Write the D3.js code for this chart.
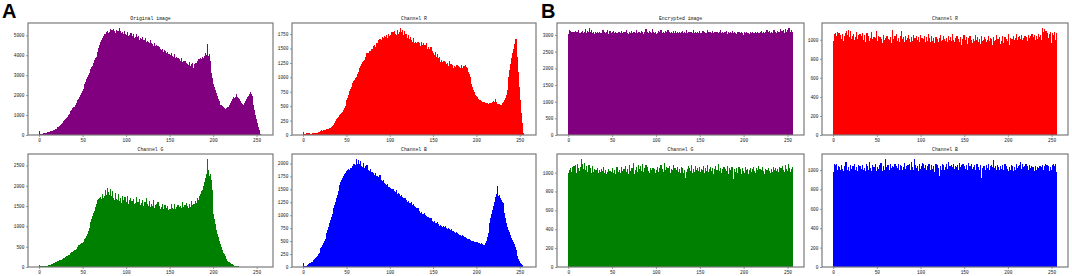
<!DOCTYPE html>
<html>
<head>
<meta charset="utf-8">
<script src="https://cdn.jsdelivr.net/npm/d3@7"></script>
<style>
  body { margin: 0; background: #fff; }
</style>
</head>
<body>
<svg id="chart" width="1072" height="276"></svg>
<script>
// histogram bins 0..255 (pixel intensity)
const bins = d3.range(256);
const xTicks = [0, 50, 100, 150, 200, 250];

// y tick labels per panel
const ticksOriginal = [0, 1000, 2000, 3000, 4000, 5000];
const ticksR = [0, 250, 500, 750, 1000, 1250, 1500, 1750];
const ticksG = [0, 500, 1000, 1500, 2000, 2500];
const ticksB = [0, 250, 500, 750, 1000, 1250, 1500, 1750, 2000];
const ticksEncrypted = [0, 500, 1000, 1500, 2000, 2500, 3000];
const ticksEncChannel = [0, 200, 400, 600, 800, 1000];

// A: original image histograms
const originalAll = [
  180, 40, 55, 60, 75, 85, 95, 110, 120, 130, 145, 160, 170, 185, 200, 220,
  240, 265, 290, 320, 350, 385, 420, 460, 500, 545, 590, 640, 690, 740, 790, 850,
  910, 980, 1050, 1120, 1190, 1260, 1330, 1400, 1420, 1510, 1600, 1680, 1760, 1830, 1920, 2010,
  2110, 2220, 2330, 2450, 2560, 2680, 2790, 2900, 3020, 3130, 3250, 3320, 3400, 3480, 3600, 3750,
  3850, 3900, 3980, 4150, 4350, 4500, 4660, 4750, 4880, 4950, 5050, 5080, 4980, 5150, 5200, 5120,
  5180, 5300, 5100, 5250, 5150, 5320, 5200, 5100, 5280, 5150, 5230, 5050, 5350, 5200, 5120, 5180,
  5080, 5220, 5050, 5000, 5000, 5150, 4950, 5020, 4900, 5120, 4950, 4880, 5050, 4850, 4900, 5080,
  4900, 4820, 4950, 4780, 4850, 4800, 4920, 4750, 4780, 4700, 4850, 4650, 4720, 4680, 4600, 4750,
  4600, 4550, 4580, 4480, 4600, 4450, 4500, 4380, 4450, 4350, 4400, 4300, 4250, 4320, 4180, 4250,
  4150, 4200, 4100, 4180, 4050, 4080, 4000, 4120, 3950, 3980, 3900, 4050, 3850, 3920, 3800, 3850,
  3750, 3800, 3700, 3850, 3650, 3700, 3580, 3720, 3550, 3600, 3580, 3500, 3650, 3450, 3550, 3400,
  3600, 3350, 3550, 3620, 3600, 3700, 3650, 3800, 3750, 3850, 3800, 3900, 3850, 3950, 3900, 4100,
  4000, 4550, 3950, 4050, 3700, 3100, 2850, 2700, 2580, 2420, 2250, 2100, 1950, 1830, 1700, 1600,
  1520, 1480, 1450, 1380, 1350, 1300, 1320, 1350, 1380, 1420, 1500, 1580, 1650, 1720, 1830, 1900,
  1880, 1920, 2050, 1900, 1850, 1800, 1750, 1700, 1620, 1550, 1500, 1520, 1600, 1700, 1830, 1920,
  1980, 2050, 2150, 2080, 1950, 1750, 1500, 1250, 1000, 800, 580, 400, 250, 140, 60, 10
];
const originalR = [
  45, 20, 25, 30, 22, 28, 25, 30, 20, 25, 28, 30, 26, 35, 38, 42,
  40, 50, 55, 65, 75, 80, 72, 85, 90, 82, 95, 100, 92, 110, 115, 125,
  140, 150, 160, 175, 200, 240, 270, 300, 320, 335, 350, 370, 390, 400, 430, 470,
  510, 560, 600, 650, 700, 760, 800, 840, 880, 910, 930, 960, 980, 1010, 1060, 1100,
  1120, 1155, 1200, 1230, 1260, 1280, 1300, 1330, 1360, 1420, 1380, 1415, 1450, 1460, 1490, 1480,
  1500, 1540, 1560, 1520, 1600, 1590, 1640, 1580, 1660, 1620, 1645, 1700, 1680, 1720, 1660, 1700,
  1740, 1680, 1760, 1710, 1730, 1780, 1700, 1790, 1720, 1800, 1760, 1740, 1820, 1700, 1760, 1790,
  1850, 1780, 1820, 1740, 1800, 1720, 1760, 1700, 1690, 1740, 1660, 1700, 1640, 1620, 1600, 1680,
  1590, 1620, 1600, 1560, 1620, 1580, 1600, 1550, 1610, 1560, 1590, 1520, 1560, 1540, 1600, 1500,
  1530, 1500, 1480, 1520, 1440, 1460, 1415, 1390, 1440, 1350, 1400, 1330, 1300, 1360, 1270, 1300,
  1270, 1240, 1280, 1220, 1260, 1230, 1250, 1200, 1290, 1240, 1240, 1180, 1220, 1160, 1200, 1185,
  1150, 1210, 1180, 1200, 1185, 1160, 1220, 1170, 1200, 1150, 1190, 1210, 1185, 1170, 1100, 1060,
  1000, 950, 880, 830, 780, 740, 700, 680, 665, 640, 620, 610, 600, 590, 580, 570,
  560, 565, 560, 555, 550, 545, 560, 550, 555, 560, 570, 590, 580, 620, 575, 560,
  545, 540, 530, 525, 520, 530, 550, 570, 600, 650, 700, 780, 880, 1000, 1125, 1230,
  1330, 1415, 1500, 1580, 1645, 1660, 1550, 1360, 1100, 840, 600, 375, 200, 100, 30, 5
];
const originalG = [
  55, 25, 30, 28, 30, 32, 28, 30, 35, 30, 38, 40, 50, 60, 70, 80,
  95, 105, 115, 125, 140, 150, 155, 165, 175, 180, 195, 205, 215, 230, 245, 260,
  275, 290, 305, 330, 340, 360, 380, 395, 410, 430, 450, 470, 500, 530, 550, 570,
  590, 600, 615, 640, 680, 720, 770, 820, 880, 950, 1025, 1100, 1190, 1260, 1320, 1390,
  1480, 1560, 1600, 1650, 1680, 1700, 1720, 1680, 1800, 1700, 1760, 1740, 1900, 1780, 1950, 1850,
  1780, 1920, 1700, 1760, 1880, 1700, 1650, 1820, 1680, 1600, 1650, 1800, 1620, 1700, 1580, 1760,
  1640, 1600, 1720, 1580, 1600, 1750, 1560, 1640, 1700, 1560, 1620, 1580, 1680, 1550, 1580, 1720,
  1540, 1600, 1560, 1680, 1520, 1580, 1640, 1500, 1560, 1600, 1520, 1700, 1540, 1500, 1620, 1480,
  1560, 1500, 1500, 1640, 1460, 1520, 1560, 1450, 1600, 1480, 1500, 1440, 1470, 1560, 1420, 1480,
  1520, 1440, 1460, 1500, 1400, 1440, 1430, 1540, 1400, 1460, 1420, 1560, 1440, 1480, 1400, 1520,
  1470, 1420, 1500, 1460, 1600, 1480, 1440, 1520, 1460, 1580, 1500, 1460, 1540, 1480, 1620, 1520,
  1500, 1560, 1540, 1620, 1580, 1700, 1640, 1620, 1750, 1800, 1860, 1900, 2000, 1980, 2100, 2200,
  2300, 2650, 2400, 2250, 2300, 2150, 1900, 1480, 1300, 1190, 1050, 900, 820, 740, 650, 600,
  560, 500, 410, 350, 310, 280, 230, 190, 160, 135, 120, 100, 80, 65, 50, 40,
  35, 30, 22, 18, 14, 10, 8, 6, 5, 4, 3, 2, 2, 1, 1, 1,
  0, 0, 0, 0, 0, 0, 0, 0, 0, 0, 0, 0, 0, 0, 0, 0
];
const originalB = [
  75, 20, 15, 20, 30, 45, 60, 70, 80, 90, 100, 115, 130, 150, 170, 195,
  220, 250, 280, 320, 360, 390, 430, 470, 510, 550, 600, 650, 710, 780, 845, 900,
  960, 1020, 1080, 1135, 1200, 1260, 1330, 1400, 1460, 1520, 1580, 1640, 1690, 1720, 1760, 1800,
  1820, 1840, 1850, 1880, 1900, 1870, 1920, 1915, 1950, 1940, 2000, 1960, 1980, 2080, 1990, 2060,
  1980, 1990, 2050, 1960, 1940, 2010, 1915, 1950, 1900, 1980, 1870, 1880, 1860, 1900, 1830, 1840,
  1815, 1800, 1780, 1820, 1760, 1750, 1740, 1720, 1780, 1700, 1690, 1660, 1680, 1630, 1610, 1590,
  1570, 1600, 1550, 1540, 1525, 1500, 1490, 1510, 1470, 1460, 1440, 1480, 1420, 1430, 1410, 1380,
  1370, 1400, 1350, 1330, 1320, 1340, 1300, 1290, 1265, 1280, 1240, 1230, 1250, 1200, 1190, 1210,
  1170, 1150, 1135, 1120, 1140, 1090, 1080, 1040, 1060, 1030, 1020, 1040, 1005, 990, 980, 960,
  970, 940, 930, 950, 910, 890, 875, 880, 860, 850, 870, 825, 830, 800, 810, 790,
  780, 800, 770, 760, 790, 745, 740, 760, 730, 720, 715, 740, 700, 690, 680, 650,
  670, 640, 660, 630, 615, 620, 600, 610, 590, 585, 570, 580, 560, 550, 540, 545,
  530, 520, 510, 500, 505, 490, 480, 485, 475, 470, 460, 465, 450, 455, 440, 430,
  420, 430, 455, 500, 580, 650, 750, 850, 940, 1020, 1100, 1170, 1250, 1300, 1360, 1420,
  1560, 1380, 1400, 1330, 1300, 1260, 1230, 1150, 1050, 940, 860, 780, 715, 680, 650, 615,
  570, 530, 490, 440, 380, 325, 270, 210, 160, 120, 80, 50, 30, 10, 5, 0
];

// B: encrypted image histograms
const encryptedAll = [
  3020, 3150, 3110, 3080, 3090, 3060, 3100, 3050, 3120, 3080, 3090, 3140, 3070, 3060, 3100, 3080,
  3110, 3050, 3090, 3180, 3070, 3120, 3100, 3060, 3200, 3080, 3150, 3070, 3090, 3040, 3080, 3060,
  3070, 3090, 3050, 3080, 3060, 3070, 3100, 3150, 3060, 3080, 3050, 3090, 3140, 3040, 3070, 3110,
  3060, 3020, 3080, 3130, 3050, 3090, 3070, 3000, 3060, 3100, 3080, 3050, 3120, 3060, 3090, 3040,
  3080, 3060, 3150, 3070, 3040, 3090, 3060, 3110, 3030, 3070, 3080, 3100, 3050, 3160, 3060, 3080,
  3090, 3050, 3070, 3130, 3080, 3040, 3100, 3060, 3180, 3070, 3090, 3050, 3120, 3080, 3060, 3170,
  3080, 3100, 3050, 3090, 3040, 3070, 3120, 3060, 3080, 3150, 3040, 3070, 3090, 3060, 3110, 3050,
  3080, 3140, 3060, 3090, 3050, 3080, 3060, 3110, 3070, 3040, 3130, 3060, 3090, 3070, 3100, 3050,
  3060, 3090, 3120, 3050, 3080, 3060, 3150, 3070, 3040, 3090, 3060, 3100, 3080, 3050, 3140, 3070,
  3090, 3060, 3000, 3080, 3050, 3110, 3070, 3060, 3090, 3130, 3040, 3080, 3070, 3060, 3150, 3080,
  3060, 3100, 3070, 3050, 3120, 3060, 3090, 3080, 3040, 3100, 3070, 3050, 3080, 3140, 3060, 3090,
  3070, 3050, 3090, 3060, 3110, 3040, 3080, 3060, 3090, 3070, 3050, 3120, 3060, 3080, 3070, 3040,
  3090, 3060, 3080, 3050, 3070, 3100, 3060, 3010, 3080, 3050, 3060, 3090, 3070, 3060, 3040, 3080,
  3060, 3090, 3050, 2980, 3070, 3080, 3060, 3100, 3050, 3070, 3060, 3090, 3110, 3060, 3080, 3070,
  3090, 3060, 3140, 3080, 3050, 3120, 3070, 3090, 3060, 3100, 3150, 3070, 3090, 3060, 3130, 3080,
  3100, 3170, 3080, 3120, 3090, 3150, 3060, 3180, 3100, 3140, 3070, 3200, 3110, 3090, 3150, 3080
];
const encryptedR = [
  990, 1060, 1070, 1040, 1080, 1030, 1070, 1020, 1050, 1010, 1060, 990, 1040, 1000, 1070, 1090,
  1050, 1100, 1030, 1090, 1010, 1040, 1020, 1060, 1000, 1030, 1080, 1010, 1050, 990, 1060, 1020,
  1040, 1070, 1000, 1050, 980, 1030, 1070, 1000, 1040, 990, 1020, 1080, 1010, 970, 1030, 1000,
  1020, 1090, 990, 1040, 1000, 1030, 980, 1010, 970, 1050, 1000, 1020, 980, 1040, 990, 1010,
  1000, 1030, 970, 1100, 1010, 980, 1040, 1000, 1060, 990, 1020, 980, 1040, 1000, 1090, 1010,
  1030, 980, 1040, 1000, 1020, 960, 1050, 1010, 980, 1030, 990, 1050, 1000, 1020, 970, 1040,
  1000, 1030, 980, 1050, 990, 1020, 970, 1010, 1040, 980, 1030, 990, 1060, 1000, 1020, 980,
  1040, 990, 1020, 970, 1000, 1030, 960, 1010, 980, 1020, 1050, 990, 1000, 980, 1040, 1010,
  990, 1020, 980, 1040, 1000, 960, 1030, 990, 1060, 1000, 980, 1020, 970, 1040, 990, 1010,
  980, 1030, 950, 1010, 990, 1050, 980, 1000, 1030, 960, 1020, 990, 1040, 980, 1000, 970,
  1010, 990, 1050, 960, 1000, 1030, 980, 1010, 960, 1040, 990, 1000, 970, 1030, 1010, 980,
  1000, 1040, 990, 1020, 980, 1010, 950, 1030, 990, 1000, 1050, 970, 1010, 990, 1030, 960,
  990, 1040, 970, 1000, 1030, 980, 1010, 990, 1060, 950, 1020, 990, 1010, 980, 1040, 1000,
  1020, 1060, 1000, 1030, 990, 1040, 1010, 1050, 1000, 1020, 980, 1040, 1010, 1030, 990, 1050,
  1020, 1040, 1000, 1060, 1010, 1030, 1050, 1000, 1040, 1010, 1060, 1030, 1020, 1050, 1000, 1120,
  1080, 1110, 1050, 1090, 1040, 1070, 1020, 1060, 1080, 970, 1070, 1050, 1030, 1080, 1000, 1070
];
const encryptedG = [
  1000, 1030, 1050, 1010, 1060, 1020, 1070, 1040, 1080, 1000, 1090, 1050, 1020, 1060, 1140, 1070,
  1090, 1040, 1100, 1030, 1070, 1010, 1060, 1080, 1020, 1050, 1000, 1070, 1010, 1040, 990, 1030,
  1020, 1050, 1000, 1030, 1010, 1040, 990, 1020, 1060, 1000, 1030, 980, 1010, 1040, 1000, 1020,
  1010, 990, 1050, 1000, 1030, 980, 1020, 1060, 1010, 990, 1030, 1000, 1060, 1020, 990, 1040,
  1000, 1070, 1010, 1040, 990, 1080, 1020, 1000, 1050, 1010, 1100, 990, 1030, 1060, 1010, 1080,
  1040, 1000, 1070, 1020, 1090, 1010, 1050, 1030, 1080, 1000, 1060, 1020, 1000, 1050, 1030, 1010,
  1050, 1020, 1040, 1000, 1030, 1060, 1010, 1050, 1020, 1080, 1000, 1040, 1010, 1100, 1030, 1060,
  1020, 1050, 1010, 1070, 1000, 1040, 1030, 1080, 1010, 1050, 990, 1030, 1060, 1010, 1040, 1000,
  1060, 1020, 1050, 1000, 1030, 940, 1010, 1040, 1070, 990, 1050, 1020, 1080, 1000, 1040, 1010,
  1070, 1030, 1000, 1050, 1020, 1060, 1010, 1040, 990, 1030, 1070, 1000, 1050, 1020, 1080, 1010,
  1040, 1000, 1060, 1020, 1050, 990, 1040, 1070, 1010, 1030, 1000, 1090, 1020, 1050, 1000, 1040,
  1010, 1060, 1000, 1040, 1020, 1070, 990, 1050, 1030, 1000, 1060, 1020, 930, 1040, 1010, 1050,
  1000, 1030, 1060, 1010, 1040, 990, 1050, 1020, 1000, 1060, 1030, 1010, 1040, 980, 1030, 1050,
  1010, 1040, 990, 1060, 1020, 1000, 1050, 1030, 1070, 1010, 1040, 1000, 1030, 1060, 1020, 990,
  1040, 1010, 1030, 960, 1050, 1020, 1000, 1040, 1010, 1060, 1030, 1000, 1050, 1020, 1040, 1010,
  1060, 1020, 1050, 1000, 1070, 1030, 1010, 1080, 1040, 1020, 1090, 1000, 1050, 1010, 1040, 1060
];
const encryptedB = [
  980, 1060, 1050, 1060, 1000, 1040, 990, 1030, 1000, 1050, 1010, 990, 1040, 1000, 1080, 1020,
  1000, 1030, 990, 1050, 1010, 1000, 1040, 990, 1060, 1000, 1030, 990, 1050, 1010, 1040, 990,
  1010, 1050, 1000, 1020, 990, 1060, 1010, 1040, 1000, 1080, 1020, 990, 1050, 1000, 1030, 1010,
  1060, 990, 1030, 1010, 1050, 1000, 1070, 1020, 990, 1040, 1000, 1110, 1030, 1000, 1050, 1020,
  1000, 1060, 1020, 1040, 990, 1030, 1060, 1000, 1040, 1020, 1060, 1000, 1050, 1010, 1040, 1000,
  1030, 1070, 1010, 1040, 1000, 1050, 1020, 1060, 1000, 1080, 1030, 1000, 1110, 1010, 1050, 1020,
  1040, 990, 1060, 1010, 1040, 1000, 1070, 1060, 1020, 1050, 1000, 1040, 1010, 1060, 1030, 1000,
  1050, 1010, 1040, 980, 1030, 1060, 1000, 1050, 1020, 940, 1040, 1000, 1060, 1020, 1050, 1000,
  1030, 1060, 1010, 1080, 1020, 1040, 1000, 1050, 1030, 1060, 1010, 1040, 960, 1030, 1050, 1000,
  1070, 1030, 1050, 1000, 1060, 1020, 1040, 1010, 1050, 1000, 1070, 1020, 1040, 1000, 1060, 1010,
  1030, 1050, 1000, 1040, 1060, 1010, 1030, 1000, 1050, 920, 1020, 980, 1040, 1010, 1000, 1050,
  1020, 1060, 1000, 1040, 1010, 1050, 1030, 1100, 1020, 1040, 1000, 1050, 1010, 1030, 1000, 1040,
  1010, 1050, 1000, 1030, 1060, 1000, 1040, 1010, 990, 1030, 1000, 1050, 1010, 1040, 990, 1030,
  1000, 1060, 1020, 1040, 1000, 1050, 1080, 1010, 1060, 1030, 1040, 1000, 1060, 1020, 1040, 1000,
  1050, 1020, 1040, 1000, 1030, 1010, 990, 1040, 1000, 1030, 960, 1020, 1040, 1000, 1030, 1050,
  1000, 1040, 1060, 1020, 1050, 1010, 1040, 990, 1030, 1000, 1050, 1020, 1060, 1040, 1060, 980
];

const purple = "#800080", red = "#ff0000", green = "#008000", blue = "#0000ff";

// one entry per subplot: [left, top, right, bottom] of the axes box
const panels = [
  { title: "Original image", values: originalAll, color: purple, ticks: ticksOriginal, box: [28, 23, 273, 135] },
  { title: "Channel R", values: originalR, color: red, ticks: ticksR, box: [292, 23, 536, 135] },
  { title: "Channel G", values: originalG, color: green, ticks: ticksG, box: [28, 154, 273, 267] },
  { title: "Channel B", values: originalB, color: blue, ticks: ticksB, box: [292, 154, 536, 267] },
  { title: "Encrypted image", values: encryptedAll, color: purple, ticks: ticksEncrypted, box: [557, 23, 804, 135] },
  { title: "Channel R", values: encryptedR, color: red, ticks: ticksEncChannel, box: [822, 23, 1068, 135] },
  { title: "Channel G", values: encryptedG, color: green, ticks: ticksEncChannel, box: [557, 154, 804, 267] },
  { title: "Channel B", values: encryptedB, color: blue, ticks: ticksEncChannel, box: [822, 154, 1068, 267] }
];

const svg = d3.select("#chart");
const frameColor = "#7a7a7a";
const monoFont = "'Liberation Mono', 'DejaVu Sans Mono', monospace";
const plain = d3.format("d");

panels.forEach((p) => {
  const [left, top, right, bottom] = p.box;

  // matplotlib-like 5% margins around bins [0, 256]
  const x = d3.scaleLinear().domain([-12.8, 268.8]).range([left, right]);
  const y = d3
    .scaleLinear()
    .domain([0, d3.max(p.values) * 1.05])
    .range([bottom, top]);

  const g = svg.append("g");

  const step = x(1) - x(0);
  g.append("g")
    .attr("shape-rendering", "crispEdges")
    .selectAll("rect")
    .data(bins)
    .enter()
    .append("rect")
    .attr("x", (d) => x(d))
    .attr("width", step + 0.3)
    .attr("y", (d) => y(p.values[d]))
    .attr("height", (d) => y(0) - y(p.values[d]))
    .attr("fill", p.color);

  // x axis
  const xAxis = g
    .append("g")
    .attr("transform", `translate(0,${bottom})`)
    .call(
      d3.axisBottom(x).tickValues(xTicks).tickFormat(plain).tickSize(2).tickPadding(1.5)
    );
  xAxis.select(".domain").remove();

  // y axis
  const yAxis = g
    .append("g")
    .attr("transform", `translate(${left},0)`)
    .call(
      d3.axisLeft(y).tickValues(p.ticks).tickFormat(plain).tickSize(2).tickPadding(1.5)
    );
  yAxis.select(".domain").remove();

  g.selectAll(".tick line").attr("stroke", "#555").attr("stroke-width", 0.6);
  g.selectAll(".tick text")
    .attr("fill", "#222")
    .style("font-size", "4.5px")
    .style("font-family", monoFont);

  // frame
  g.append("rect")
    .attr("x", left)
    .attr("y", top)
    .attr("width", right - left)
    .attr("height", bottom - top)
    .attr("fill", "none")
    .attr("stroke", frameColor)
    .attr("stroke-width", 1.2);

  // title
  g.append("text")
    .attr("x", (left + right) / 2)
    .attr("y", top - 3)
    .attr("text-anchor", "middle")
    .attr("fill", "#111")
    .style("font-family", monoFont)
    .style("font-size", "4.8px")
    .text(p.title);
});

// panel letters
svg.append("text")
  .attr("x", 2).attr("y", 18)
  .style("font-family", "'Liberation Sans', Arial, sans-serif")
  .style("font-weight", "bold").style("font-size", "20px")
  .text("A");
svg.append("text")
  .attr("x", 541).attr("y", 18)
  .style("font-family", "'Liberation Sans', Arial, sans-serif")
  .style("font-weight", "bold").style("font-size", "20px")
  .text("B");
</script>
</body>
</html>
